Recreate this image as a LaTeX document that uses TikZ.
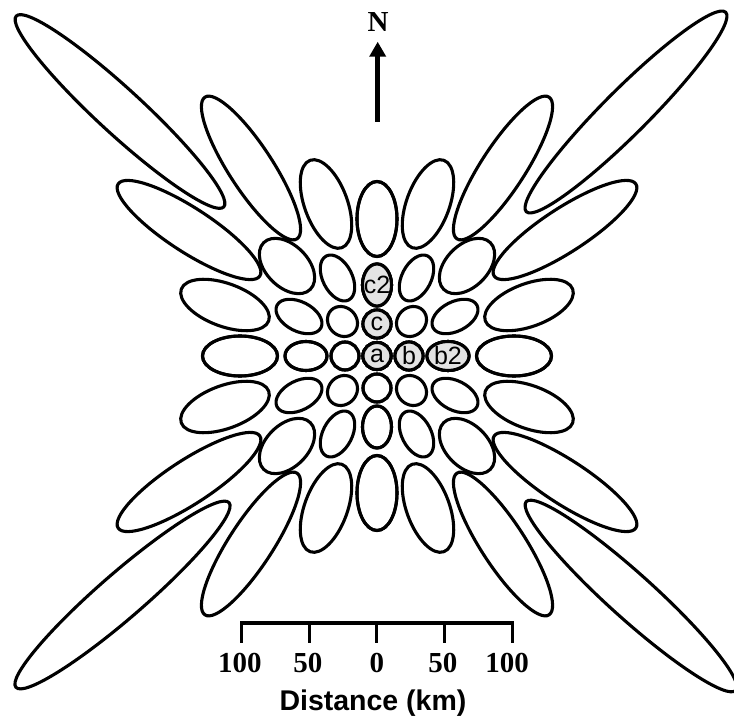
\documentclass[tikz,border=0pt]{standalone}
\usepackage{fontspec}
\setmainfont{Liberation Serif}
\newfontfamily\arialfont{Liberation Sans}
\usetikzlibrary{arrows.meta}
\tikzset{
  ell/.style={draw=black, line width=3.1pt},
  labfill/.style={fill=black!11, draw=black, line width=3.1pt},
  labtext/.style={font=\arialfont\fontsize{25}{25}\selectfont, inner sep=0pt},
  scalenum/.style={font=\bfseries\fontsize{29}{29}\selectfont, inner sep=0pt, anchor=base},
}
\newcommand{\ellset}[5]{%
  \foreach \sx in {1,-1}{\foreach \sy in {1,-1}{%
    \draw[ell, shift={({\sx*(#1)},{\sy*(#2)})}, rotate={(\sx)*(\sy)*(#5)}] (0,0) ellipse [x radius=#3, y radius=#4];
  }}}
\newcommand{\ellpair}[5]{\ellset{#1}{#2}{#3}{#4}{#5}\ellset{#2}{#1}{#3}{#4}{90-(#5)}}
\begin{document}
\begin{tikzpicture}[x=1pt,y=1pt]
\useasboundingbox (-377,-367) rectangle (357,356);
% grid of ellipses
\ellset{0}{0}{14}{13.5}{0}
\ellpair{32}{0}{14}{14}{0}
\ellpair{71}{0}{21}{14.5}{0}
\ellpair{137}{0}{37.5}{20}{0}
\ellset{34.5}{34.5}{16}{14}{45}
\ellpair{78}{39.5}{24.7}{14.7}{27}
\ellpair{152}{51}{46.5}{21.5}{20}
\ellset{90}{90}{33}{21}{45}
\ellpair{188}{126}{84.5}{22}{33}
% the four long corner ellipses
\draw[ell, shift={(-257,244.5)}, rotate=137.4] (0,0) ellipse [x radius=141, y radius=22.5];
\draw[ell, shift={(249,244)}, rotate=45] (0,0) ellipse [x radius=141, y radius=22.5];
\draw[ell, shift={(-254.5,-239)}, rotate=40.9] (0,0) ellipse [x radius=141, y radius=22.5];
\draw[ell, shift={(254,-240)}, rotate=-42] (0,0) ellipse [x radius=141, y radius=22.5];
% labelled cells
\filldraw[labfill] (0,0) ellipse [x radius=14, y radius=13.5];
\filldraw[labfill] (32,0) ellipse [x radius=14, y radius=14];
\filldraw[labfill] (71,0) ellipse [x radius=21, y radius=14.5];
\filldraw[labfill] (0,32) ellipse [x radius=14, y radius=14];
\filldraw[labfill] (0,71) ellipse [x radius=14.5, y radius=21];
\node[labtext] (la) at (0,0) {a};
\node[labtext] (lb) at (32,0) {b};
\node[labtext] (lb2) at (71,0) {b2};
\node[labtext] (lc) at (0,32) {c};
\node[labtext] (lc2) at (0,71) {c2};
% north arrow
\coordinate (Nbase) at (0.7,234.3);
\coordinate (Ntip) at (0.7,314.3);
\draw[line width=5pt, -{Triangle[width=16pt,length=15pt]}] (Nbase) -- (Ntip);
\node[font=\bfseries\fontsize{29}{29}\selectfont, inner sep=0pt] (N) at (1,334.3) {N};
% scale bar
\coordinate (s0) at (-135,-267.3);
\coordinate (s1) at (-67.5,-267.3);
\coordinate (s2) at (0,-267.3);
\coordinate (s3) at (67.5,-267.3);
\coordinate (s4) at (135,-267.3);
\coordinate (t0) at (-135,-287.3);
\coordinate (t1) at (-67.5,-287.3);
\coordinate (t2) at (0,-287.3);
\coordinate (t3) at (67.5,-287.3);
\coordinate (t4) at (135,-287.3);
\draw[line width=4pt] ([xshift=-1.5pt]s0) -- ([xshift=1.5pt]s4);
\foreach \i in {0,...,4} \draw[line width=3pt] (s\i) -- (t\i);
\node[scalenum] (n0) at (-137,-316.7) {100};
\node[scalenum] (n1) at (-69,-316.7) {50};
\node[scalenum] (n2) at (0,-316.7) {0};
\node[scalenum] (n3) at (66,-316.7) {50};
\node[scalenum] (n4) at (130,-316.7) {100};
\node[font=\arialfont\bfseries\fontsize{28.5}{28.5}\selectfont, inner sep=0pt, anchor=base] (dist) at (-4,-354) {Distance (km)};
\end{tikzpicture}
\end{document}
